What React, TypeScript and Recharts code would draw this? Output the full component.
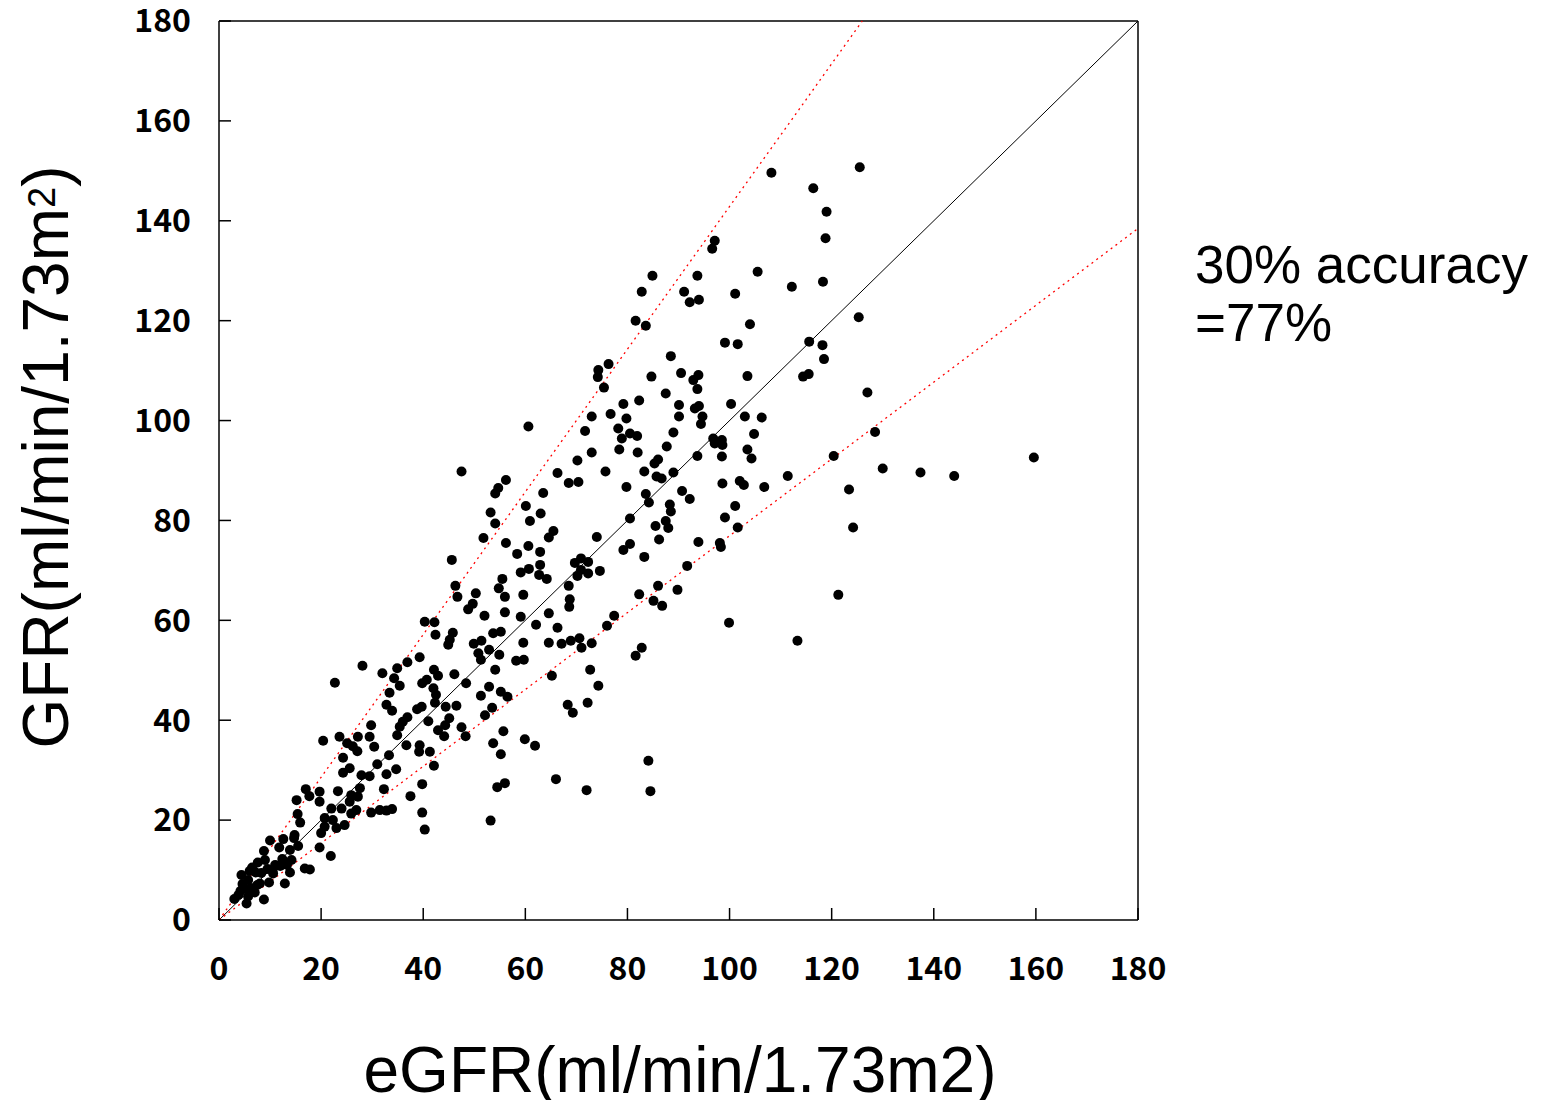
import { ScatterChart, Scatter, XAxis, YAxis, ReferenceLine } from 'recharts'

const X_TICKS = [0, 20, 40, 60, 80, 100, 120, 140, 160, 180]
const Y_TICKS = [0, 20, 40, 60, 80, 100, 120, 140, 160, 180]
const AXIS_MAX = 180

// 30% accuracy band: eGFR within ±30% of measured GFR
const UPPER_RATIO = 1 / 0.7
const LOWER_RATIO = 1 / 1.3

// [eGFR, GFR] pairs
const under20: [number, number][] = [
  [17.0, 26.2], [15.2, 24.0], [17.7, 24.8], [15.4, 21.2], [15.9, 19.5], [14.7, 16.4], [12.6, 16.2],
  [10.0, 15.9], [8.8, 13.8], [13.9, 14.0], [15.5, 14.8], [14.2, 12.0], [7.6, 11.5], [9.0, 12.0],
  [11.0, 11.0], [16.8, 10.3], [17.8, 10.1], [13.9, 9.5], [12.9, 7.3], [4.4, 9.0], [5.7, 8.0],
  [10.6, 9.3], [8.0, 7.3], [3.8, 5.0], [5.7, 4.7], [5.4, 3.3], [8.8, 4.1], [6.5, 10.5], [7.2, 9.5],
  [8.3, 9.4], [5.0, 6.3], [6.2, 6.4], [4.6, 7.2], [7.0, 5.5], [9.8, 7.5], [10.5, 10.0], [11.8, 14.5],
  [12.4, 12.2], [13.3, 11.0], [14.8, 17.0], [12.0, 10.8], [9.5, 10.2], [6.0, 9.8], [7.5, 7.0],
  [3.0, 4.2], [4.2, 5.8], [19.7, 25.7], [19.7, 23.7], [19.7, 14.5],
]

const from20to40: [number, number][] = [
  [22.7, 47.5], [28.1, 50.9], [34.9, 50.4], [32.0, 49.4], [36.9, 51.6], [39.3, 52.6], [34.3, 48.4],
  [35.4, 46.9], [39.8, 47.4], [33.4, 45.5], [32.8, 43.1], [33.9, 41.9], [38.8, 42.2], [36.9, 40.6],
  [36.0, 39.7], [35.4, 38.7], [34.9, 37.0], [29.8, 39.0], [23.6, 36.7], [20.4, 35.9], [25.1, 35.4],
  [26.2, 34.8], [27.2, 36.7], [27.1, 33.8], [29.5, 36.7], [30.4, 34.7], [24.3, 32.5], [36.7, 35.0],
  [39.3, 35.0], [39.2, 33.7], [33.3, 33.0], [31.0, 31.2], [25.6, 30.4], [24.3, 29.5], [34.7, 30.2],
  [32.8, 29.2], [27.9, 29.0], [29.5, 28.8], [39.8, 27.2], [23.3, 25.8], [32.3, 26.2], [27.6, 26.4],
  [27.2, 24.7], [25.9, 25.0], [25.6, 23.7], [37.5, 24.8], [22.0, 22.3], [24.0, 22.3], [25.9, 21.3],
  [26.9, 22.0], [29.8, 21.5], [31.5, 22.0], [32.8, 21.9], [33.9, 22.2], [39.8, 21.5], [20.7, 20.4],
  [22.3, 20.0], [20.7, 18.7], [23.0, 18.4], [24.6, 19.0], [20.0, 17.4], [40.3, 18.1], [21.9, 12.8],
  [39.7, 42.7],
]

const from40to60: [number, number][] = [
  [40.3, 59.7], [42.2, 59.6], [42.4, 57.1], [45.8, 57.5], [45.2, 56.1], [44.9, 55.1], [49.9, 55.3],
  [51.4, 55.9], [53.7, 57.4], [55.2, 57.7], [49.7, 63.3], [48.8, 62.2], [52.0, 60.9], [56.0, 61.6],
  [59.1, 60.7], [59.6, 55.5], [50.8, 53.4], [52.9, 54.1], [54.9, 53.1], [51.3, 52.1], [58.2, 51.9],
  [59.7, 52.1], [54.1, 50.1], [42.1, 50.1], [40.7, 48.1], [42.9, 48.9], [46.1, 49.2], [42.0, 46.4],
  [42.5, 45.1], [48.4, 47.4], [52.9, 46.7], [55.2, 45.7], [56.5, 44.7], [51.3, 44.9], [42.3, 43.5],
  [44.4, 42.7], [46.5, 42.9], [53.5, 42.5], [52.1, 41.0], [41.0, 39.8], [45.1, 40.4], [44.3, 39.0],
  [42.9, 38.0], [44.1, 36.8], [47.5, 38.6], [48.3, 36.8], [55.7, 37.8], [53.7, 35.4], [55.2, 33.2],
  [59.9, 36.2], [41.3, 33.7], [42.1, 30.9], [54.5, 26.6], [56.0, 27.4], [53.2, 19.9],
]

const from60to80Low: [number, number][] = [
  [64.6, 61.4], [68.6, 62.7], [77.4, 60.9], [76.0, 58.9], [62.1, 59.1], [66.3, 58.5], [64.6, 55.5],
  [67.1, 55.3], [68.9, 55.9], [70.6, 56.4], [71.0, 54.5], [73.0, 55.4], [72.7, 50.1], [65.2, 48.9],
  [74.3, 46.9], [68.3, 43.1], [69.3, 41.5], [72.2, 43.5], [61.9, 34.9], [66.0, 28.2], [72.0, 26.0],
]

const from45to80High: [number, number][] = [
  [76.3, 111.3], [74.3, 110.1], [74.2, 108.7], [75.4, 106.6], [79.2, 103.3], [76.7, 101.3],
  [73.0, 100.8], [60.6, 98.8], [71.7, 97.9], [78.2, 98.4], [78.9, 96.4], [78.4, 94.2], [73.0, 93.6],
  [70.2, 92.0], [47.5, 89.8], [66.3, 89.5], [75.7, 89.8], [68.5, 87.5], [70.4, 87.7], [56.2, 88.1],
  [54.7, 86.5], [54.1, 85.4], [63.5, 85.5], [60.1, 82.9], [53.2, 81.6], [63.0, 81.4], [54.1, 79.4],
  [60.9, 79.9], [65.5, 77.9], [64.6, 76.6], [74.0, 76.7], [51.8, 76.5], [56.2, 75.5], [58.4, 73.3],
  [60.6, 74.9], [62.9, 73.7], [79.2, 74.1], [45.6, 72.1], [70.9, 72.4], [69.7, 71.5], [72.3, 71.7],
  [70.9, 70.1], [72.3, 69.4], [74.6, 69.9], [70.2, 68.9], [62.9, 71.1], [59.1, 69.6], [60.7, 70.3],
  [62.7, 69.1], [64.2, 68.3], [55.5, 68.3], [68.5, 66.9], [68.7, 64.2], [46.3, 66.9], [46.7, 64.7],
  [50.3, 65.4], [54.8, 66.4], [56.0, 64.7], [59.6, 65.1],
]

const from80to120: [number, number][] = [
  [91.7, 70.9], [86.0, 66.9], [89.8, 66.1], [82.3, 65.2], [85.1, 63.9], [86.8, 62.9], [99.9, 59.5],
  [113.3, 55.9], [82.8, 54.5], [81.6, 52.9], [84.1, 31.9], [84.5, 25.8],
  [88.5, 112.9], [84.7, 108.8], [90.5, 109.5], [93.9, 109.1], [92.9, 108.1], [103.5, 108.9],
  [114.4, 108.8], [115.5, 109.3], [118.5, 112.3], [93.7, 106.3], [87.5, 105.4], [82.3, 104.0],
  [90.1, 103.1], [93.2, 102.4], [94.0, 102.9], [100.3, 103.3], [90.1, 100.8], [94.7, 100.8],
  [94.4, 99.3], [103.0, 100.8], [106.3, 100.6], [79.8, 100.4], [89.0, 97.6], [80.5, 97.4],
  [81.9, 96.9], [104.8, 97.3], [96.8, 96.4], [98.5, 96.1], [97.1, 95.4], [98.6, 95.1], [87.7, 94.8],
  [103.5, 94.2], [82.0, 93.6], [104.3, 92.4], [98.5, 92.8], [93.7, 92.9], [86.0, 92.2], [85.3, 91.4],
  [83.3, 89.8], [89.0, 89.6], [85.7, 88.8], [86.7, 88.4], [79.8, 86.7], [83.6, 85.3], [84.2, 83.6],
  [90.7, 85.9], [92.2, 84.3], [98.6, 87.4], [102.0, 87.9], [102.8, 87.1], [106.8, 86.7],
  [111.4, 88.9], [88.3, 83.2], [88.5, 81.8], [101.1, 82.9], [99.1, 80.6], [101.6, 78.6],
  [80.5, 80.4], [85.5, 78.9], [87.5, 79.9], [88.0, 78.5], [86.2, 76.2], [80.5, 75.3], [93.9, 75.7],
  [98.1, 75.5], [98.3, 74.7], [83.3, 72.7],
]

const upperCluster: [number, number][] = [
  [108.2, 149.6], [116.4, 146.5], [119.0, 141.8], [118.8, 136.5], [97.1, 136.0], [96.6, 134.4],
  [84.9, 129.0], [93.7, 129.0], [105.5, 129.8], [82.8, 125.8], [91.1, 125.8], [92.2, 123.7],
  [94.0, 124.2], [101.1, 125.4], [112.2, 126.8], [118.3, 127.8], [81.6, 120.0], [83.6, 119.0],
  [104.0, 119.3], [99.1, 115.6], [101.6, 115.3], [115.6, 115.8], [118.2, 115.1],
]

const over120: [number, number][] = [
  [125.5, 150.7], [125.3, 120.7], [127.0, 105.6], [128.5, 97.7], [120.4, 92.9], [130.0, 90.4],
  [137.4, 89.6], [144.0, 88.9], [159.6, 92.6], [123.4, 86.2], [124.2, 78.6], [121.3, 65.1],
]

const points = [
  ...under20, ...from20to40, ...from40to60, ...from60to80Low,
  ...from45to80High, ...from80to120, ...upperCluster, ...over120,
].map(([egfr, gfr]) => ({ egfr, gfr }))

const tickFont = {
  fontSize: 32,
  fontFamily: '"Noto Sans CJK JP", "DejaVu Sans", sans-serif',
  fontWeight: 700,
  fill: '#000',
}
const titleFont = '"Liberation Sans", Arial, sans-serif'

function XTitle() {
  return (
    <text x={680} y={1092} textAnchor="middle" fontSize={64} fontFamily={titleFont} fill="#000">
      eGFR(ml/min/1.73m2)
    </text>
  )
}

function YTitle() {
  return (
    <text
      x={68}
      y={457}
      transform="rotate(-90, 68, 457)"
      textAnchor="middle"
      fontSize={64}
      fontFamily={titleFont}
      fill="#000"
    >
      GFR(ml/min/1.73m
      <tspan dy={-13} fontSize={38}>2</tspan>
      <tspan dy={13}>)</tspan>
    </text>
  )
}

export default function App() {
  return (
    <div style={{ position: 'absolute', left: 0, top: 0, width: 1550, height: 1100, background: '#fff' }}>
      <ScatterChart width={1550} height={1100} margin={{ top: 21, right: 412, bottom: 120, left: 0 }}>
        <XAxis
          type="number"
          dataKey="egfr"
          domain={[0, AXIS_MAX]}
          ticks={X_TICKS}
          interval={0}
          height={60}
          stroke="#000"
          axisLine={{ stroke: '#000', strokeWidth: 1.5 }}
          tickLine={{ stroke: '#000', strokeWidth: 1.5 }}
          tickSize={-12}
          tickMargin={49}
          tick={tickFont}
          label={<XTitle />}
        />
        <YAxis
          type="number"
          dataKey="gfr"
          domain={[0, AXIS_MAX]}
          ticks={Y_TICKS}
          interval={0}
          width={219}
          stroke="#000"
          axisLine={{ stroke: '#000', strokeWidth: 1.5 }}
          tickLine={{ stroke: '#000', strokeWidth: 1.5 }}
          tickSize={-12}
          tickMargin={40}
          tick={tickFont}
          label={<YTitle />}
        />
        <ReferenceLine y={AXIS_MAX} stroke="#000" strokeWidth={1.5} />
        <ReferenceLine x={AXIS_MAX} stroke="#000" strokeWidth={1.5} />
        <ReferenceLine
          segment={[{ x: 0, y: 0 }, { x: AXIS_MAX, y: AXIS_MAX }]}
          stroke="#000"
          strokeWidth={1}
        />
        <ReferenceLine
          segment={[{ x: 0, y: 0 }, { x: AXIS_MAX / UPPER_RATIO, y: AXIS_MAX }]}
          stroke="#ff0000"
          strokeWidth={1.3}
          strokeDasharray="2 4"
        />
        <ReferenceLine
          segment={[{ x: 0, y: 0 }, { x: AXIS_MAX, y: AXIS_MAX * LOWER_RATIO }]}
          stroke="#ff0000"
          strokeWidth={1.3}
          strokeDasharray="2 4"
        />
        <Scatter
          data={points}
          isAnimationActive={false}
          shape={(p: any) => <circle cx={p.cx} cy={p.cy} r={5} fill="#000" />}
        />
      </ScatterChart>
      <div
        style={{
          position: 'absolute',
          left: 1195,
          top: 236,
          fontFamily: titleFont,
          fontSize: 53,
          lineHeight: '58px',
          color: '#000',
          whiteSpace: 'nowrap',
        }}
      >
        30% accuracy
        <br />
        =77%
      </div>
    </div>
  )
}
